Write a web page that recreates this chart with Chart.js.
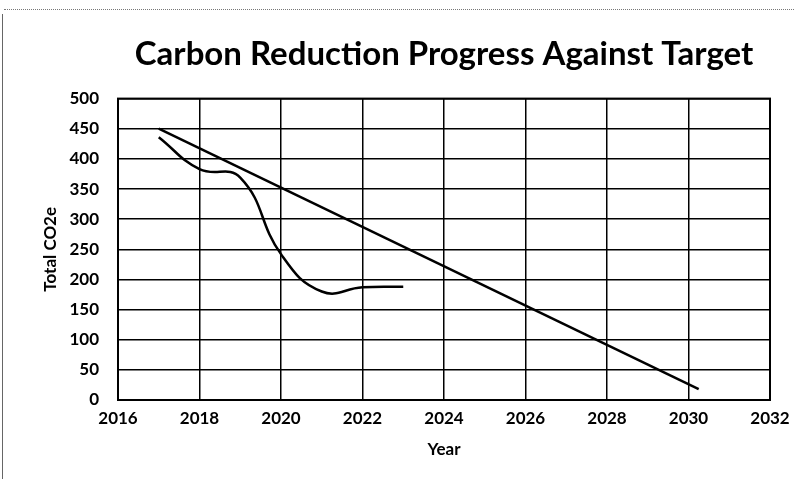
<!DOCTYPE html>
<html>
<head>
<meta charset="utf-8">
<script src="https://cdn.jsdelivr.net/npm/chart.js@4"></script>
<style>
  html, body { margin: 0; padding: 0; background: #fff; }
  #wrap { position: relative; width: 802px; height: 479px; }
  #frameTop { position: absolute; left: 4px; top: 9px; width: 790px; border-top: 1px dotted #777; }
  #frameLeft { position: absolute; left: 2px; top: 14px; height: 465px; border-left: 1px solid #666; }
  canvas { position: absolute; left: 0; top: 0; }
</style>
</head>
<body>
<div id="wrap">
  <canvas id="c" width="802" height="479"></canvas>
  <div id="frameTop"></div>
  <div id="frameLeft"></div>
</div>
<script>
const chartTitle = "Carbon Reduction Progress Against Target";
const xAxisTitle = "Year";
const yAxisTitle = "Total CO2e";
const actualYears = [2017, 2018, 2019, 2020, 2021, 2022, 2023];
const actualValues = [436, 383, 369, 242, 180, 187, 188];
const targetYears = [2017, 2030.25];
const targetValues = [450, 18];

const FONT = "Lato, 'Liberation Sans', sans-serif";

const toPoints = (xs, ys) => xs.map((x, i) => ({ x: x, y: ys[i] }));

new Chart(document.getElementById('c'), {
  type: 'line',
  data: {
    datasets: [
      {
        label: 'Target',
        data: toPoints(targetYears, targetValues),
        borderColor: '#000',
        borderWidth: 2.5,
        pointRadius: 0,
        tension: 0,
        fill: false
      },
      {
        label: 'Actual',
        data: toPoints(actualYears, actualValues),
        borderColor: '#000',
        borderWidth: 2.5,
        pointRadius: 0,
        tension: 0.45,
        fill: false
      }
    ]
  },
  options: {
    responsive: false,
    animation: false,
    devicePixelRatio: 1,
    layout: { padding: { left: 36, right: 32, top: 0, bottom: 15 } },
    plugins: {
      legend: { display: false },
      tooltip: { enabled: false },
      title: {
        display: true,
        fullSize: false,
        text: chartTitle,
        color: '#000',
        font: { family: FONT, size: 33, weight: 'bold' },
        padding: { top: 35, bottom: 24 }
      }
    },
    scales: {
      x: {
        type: 'linear',
        min: 2016,
        max: 2032,
        afterFit: s => { s.height = 64; },
        ticks: {
          stepSize: 2,
          color: '#000',
          padding: 8,
          font: { family: FONT, size: 17, weight: 'bold' },
          callback: v => String(v)
        },
        grid: { color: '#000', lineWidth: 1.5, tickLength: 0, drawTicks: false },
        border: { color: '#000', width: 2 },
        title: {
          display: true,
          text: xAxisTitle,
          color: '#000',
          font: { family: FONT, size: 17, weight: 'bold' },
          padding: { top: 4, bottom: 4 }
        }
      },
      y: {
        min: 0,
        max: 500,
        afterFit: s => { s.width = 82; },
        ticks: {
          stepSize: 50,
          color: '#000',
          padding: 19,
          font: { family: FONT, size: 17, weight: 'bold' }
        },
        grid: { color: '#000', lineWidth: 1.5, tickLength: 0, drawTicks: false },
        border: { color: '#000', width: 2 },
        title: {
          display: true,
          text: yAxisTitle,
          color: '#000',
          font: { family: FONT, size: 17, weight: 'bold' },
          padding: { top: 4, bottom: 4 }
        }
      }
    }
  },
  plugins: [{
    id: 'frameBox',
    afterDraw(chart) {
      const { ctx, chartArea: a } = chart;
      ctx.save();
      ctx.strokeStyle = '#000';
      ctx.lineWidth = 2;
      ctx.strokeRect(a.left, a.top, a.right - a.left, a.bottom - a.top);
      ctx.restore();
    }
  }]
});
</script>
</body>
</html>
